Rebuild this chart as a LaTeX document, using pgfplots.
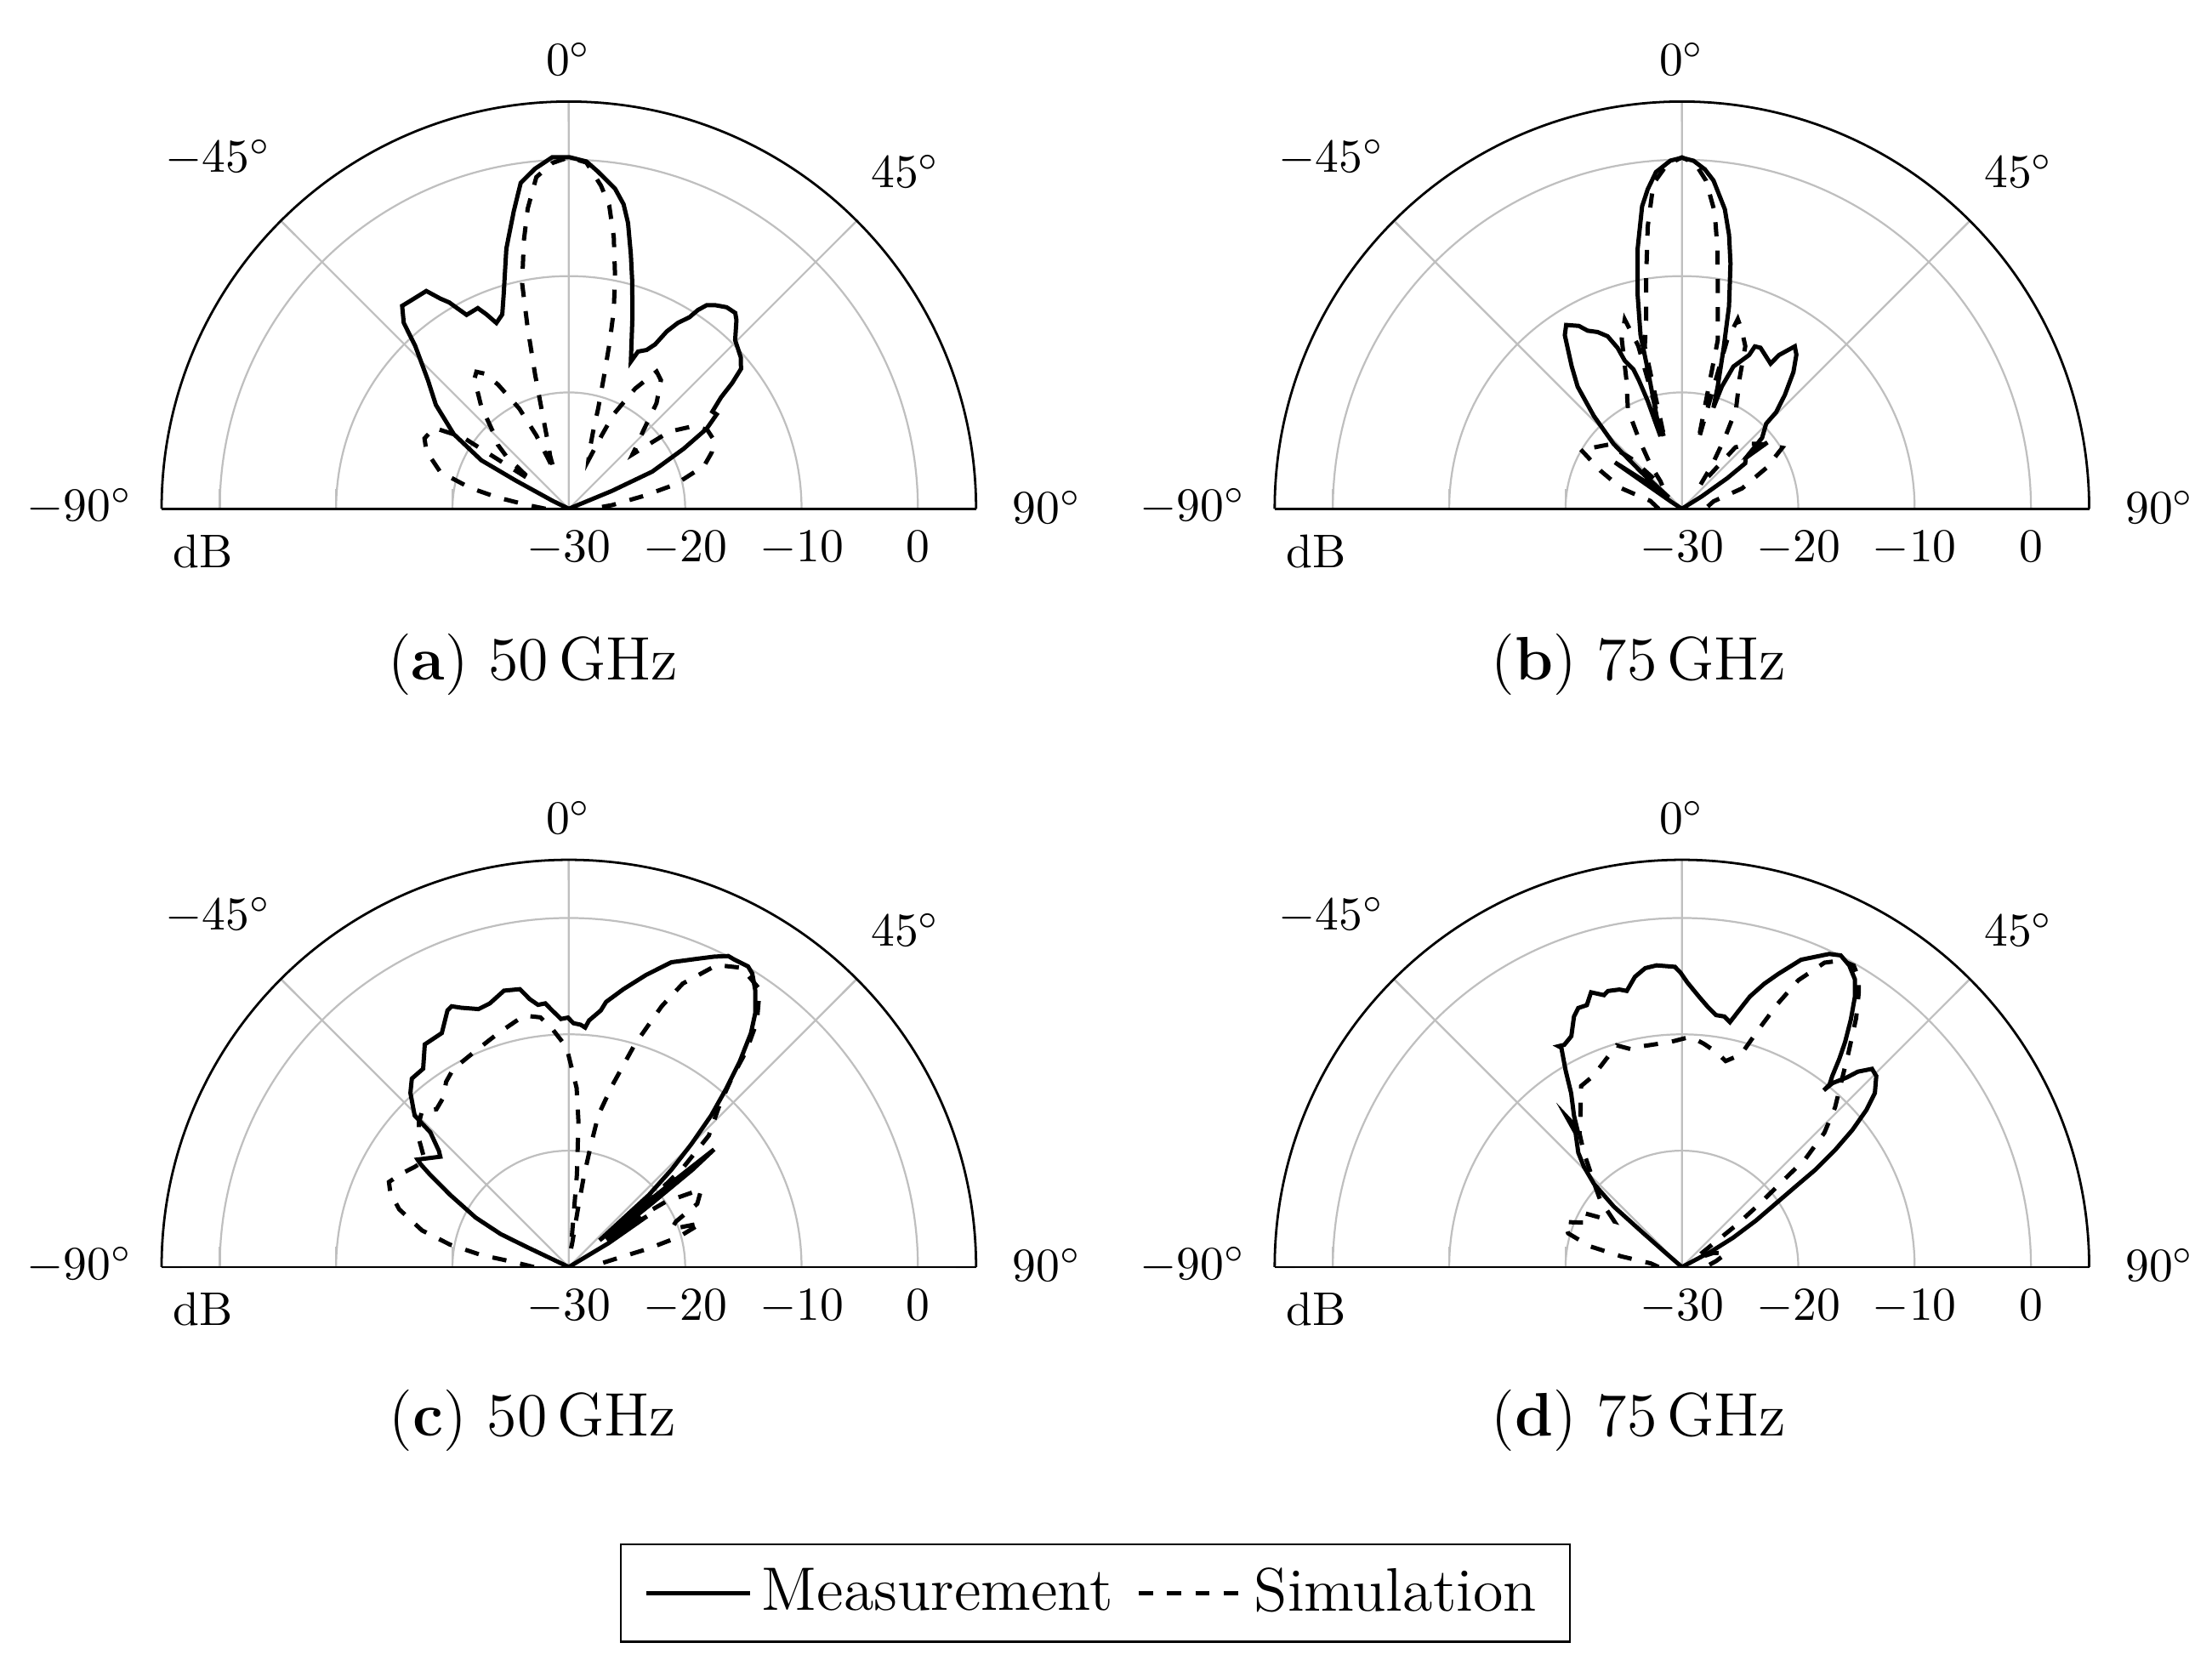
\documentclass[border=0pt]{standalone}
\usepackage{pgfplots}
\usepackage{pgfplotstable}
\usepgfplotslibrary{polar}
\pgfplotsset{compat=1.18}

% angle (deg, 0 = broadside) and level (dB)
\pgfplotstableread{
-90 -40
-67 -40
-64 -28.5
-62 -24.8
-61 -21.4
-57 -18.2
-52 -15.5
-47.6 -13.6
-43.3 -10.74
-41.6 -8.63
-39.4 -7.43
-37.6 -7.52
-33.2 -7.63
-31.4 -8.85
-30.1 -9.5
-29.0 -10.34
-27.8 -11.16
-26.1 -11.12
-24.4 -11.06
-22.95 -11.86
-21.3 -12.86
-18.9 -12.34
-16.9 -10.74
-13.5 -7.0
-10.5 -4.01
-8.4 -1.69
-5.66 -0.62
-2.7 0.25
0.1 0.22
2.9 -0.11
4.9 -0.9
8.2 -2.19
10.2 -3.41
11.7 -4.91
13.7 -7.49
15.7 -9.84
18.6 -12.89
22.85 -16.27
23.75 -15.24
26.1 -14.8
27.7 -14.04
28.9 -12.6
30.4 -11.47
32.2 -10.55
33.0 -9.63
34.1 -8.87
35.7 -8.45
38.06 -8.0
40.35 -7.91
41.6 -8.3
44.6 -9.64
48.6 -10.3
50.9 -10.93
52.4 -12.27
53.8 -13.79
55.9 -15.1
57.45 -14.93
59.85 -16.3
62.4 -18.86
66.0 -22.15
67.5 -26
69 -40
90 -40
}\measA

\pgfplotstableread{
-90 -28
-85 -26.5
-81 -23.8
-78 -21.3
-74 -18.5
-68 -16.8
-64 -16.2
-59 -16.5
-56 -19
-53 -26
-50 -23
-48 -21.8
-45 -20.9
-40.5 -18.4
-36 -16.2
-34 -15.8
-32 -16.3
-29.7 -17.7
-26.3 -20.4
-23.9 -23.1
-21 -26.5
-19.5 -25.2
-17.6 -24.1
-15.5 -21.5
-14.1 -18.1
-12.8 -14
-11.7 -10.2
-9.5 -6.6
-7.8 -3.96
-5.6 -1.36
-2.7 -0.24
0 0.2
2.9 -0.2
5.7 -2.1
7.6 -3.72
9.4 -6.34
11.3 -9.7
12.8 -12.6
13.8 -15.3
14.9 -18.3
16.3 -21.0
17.5 -23.1
19.8 -24.8
22 -25.5
24.2 -23
25.4 -21.0
28.9 -18.2
32.6 -16.0
35.6 -16.4
39.7 -18.2
43.6 -20.7
47.9 -22.3
49.5 -22.8
52.5 -19.1
56.7 -17.0
60.5 -16.3
64.7 -16.2
68.5 -16.8
72.4 -17.8
77.1 -20.6
80.3 -23.5
85.1 -26.25
90 -28
}\simA

\pgfplotstableread{
-90 -40
-60 -40
-57 -29
-55.3 -23
-53.5 -26
-51.5 -28
-49 -28.5
-48 -25.3
-46.5 -21.9
-43.5 -19
-40.5 -16.2
-37.7 -14.5
-34.0 -12.0
-32.2 -11.33
-29.4 -11.96
-27.9 -12.68
-25.5 -13.17
-23.3 -13.86
-21.8 -15.1
-21.1 -16.36
-19.2 -17.3
-18.5 -18.4
-17.6 -20.26
-16.5 -23.5
-13.8 -17.65
-13.4 -14.64
-11.7 -11.23
-9.7 -7.37
-7.5 -3.78
-6.1 -2.37
-4.4 -0.97
-1.9 -0.06
0 0.17
1.9 -0.07
3.85 -0.75
5.5 -1.66
8.15 -3.99
9.77 -6.12
11.2 -8.51
13.1 -12.14
14.6 -15.84
16.3 -19.04
17.3 -20.9
18.1 -18.94
19.9 -17.0
23.6 -15.58
24.2 -14.7
26.0 -14.6
31.4 -15.38
32.3 -14.36
34.8 -13.0
36.6 -13.5
39.2 -14.84
42.1 -16.8
44.3 -18.4
44.7 -19.7
48.5 -20.8
50.5 -22.4
52.2 -20.7
51.5 -23
54.3 -23.3
56 -25.3
58 -28
60 -40
90 -40
}\measB

\pgfplotstableread{
-90 -28
-76 -27.2
-71.3 -24.5
-65 -22.3
-59.6 -19.9
-55 -20.8
-49 -21.6
-45 -24
-41 -27.5
-38 -27
-35.7 -25.4
-31.7 -23
-28.6 -20.3
-23.1 -17.8
-19.5 -14.5
-16.8 -13.0
-15 -15.5
-14 -24
-12.9 -15.7
-10.75 -13.5
-8.8 -9.9
-6.9 -5.55
-5.0 -1.93
-2.5 -0.4
0 0.2
2.2 -0.3
4.2 -1.72
6.3 -4.34
7.8 -7.48
9.4 -11.1
12.0 -15.2
13.5 -24
15 -15
16.4 -13.0
18.5 -13.8
21.3 -15.0
23.8 -17.7
28.6 -20.3
31.2 -22.9
34.5 -25.4
38 -27.5
41 -23
47 -21.8
52 -21
58.7 -19.9
64.1 -21.9
71.3 -24.55
76.7 -27.2
90 -28
}\simB

\pgfplotstableread{
-90 -40
-66 -40
-64.5 -26
-64.2 -23.5
-62.05 -20.94
-58.7 -18.07
-56.4 -15.71
-55.2 -14.46
-54.6 -14.05
-49.35 -15.44
-48.2 -15.02
-45.8 -13.4
-45.5 -11.42
-42.3 -9.77
-39.8 -8.92
-36.3 -8.85
-32.9 -7.21
-28.5 -7.12
-25.3 -5.6
-24.2 -5.43
-22.5 -5.88
-19.3 -6.51
-16.7 -6.35
-13.2 -5.6
-10.0 -5.75
-8.3 -6.73
-6.7 -7.31
-5.1 -7.25
-3.7 -7.9
-1.8 -8.67
-0.2 -8.56
1.1 -9.04
2.8 -9.15
3.9 -9.37
4.7 -8.73
7.1 -7.78
8.0 -6.99
11.1 -5.67
14.8 -4.04
18.6 -2.36
22.4 -1.36
25.1 -0.54
27.15 0.04
28.2 0.01
30.8 0.08
32.0 -0.25
34.0 -1.34
36.3 -2.94
37.9 -4.52
39.75 -7.03
41.5 -9.68
43.2 -12.12
44.9 -15.06
46.5 -17.82
48.0 -20.74
48.3 -24
49 -26.5
50.3 -22
50.7 -18
51.0 -13.94
51.8 -16.5
52.5 -21
54 -26
57 -22
59 -26
61 -40
90 -40
}\measC

\pgfplotstableread{
-90 -27
-84.6 -25.1
-82.2 -22.4
-79.3 -19.6
-76 -17.0
-71.2 -14.6
-67.5 -13.4
-64.7 -12.9
-61 -13.5
-57 -14.2
-53.5 -14.6
-49.6 -13.1
-46 -12.1
-43.3 -11.6
-40 -12.3
-36.7 -11.9
-33.5 -10.9
-30.3 -10.3
-23.7 -9.8
-16.75 -9.0
-10.1 -8.05
-6.5 -8.4
-3.95 -9.5
-0.6 -11.1
2.5 -14.6
3.8 -17.5
5.0 -22
6.5 -28.5
8.1 -27.9
8.9 -25.0
9.4 -22.2
10.2 -19.5
11.0 -16.7
13.4 -14.0
16.5 -10.06
19.6 -6.21
21.9 -3.74
26.1 -1.1
30 -0.3
34.5 -1.04
37.5 -3.45
39.4 -5.96
40.8 -8.6
43.0 -11.03
46.8 -13.5
49 -17
51 -22
53 -24.5
56 -20
59.6 -16.8
63.8 -17.7
67 -20
69.7 -20.6
71.7 -18
74.7 -20.2
77 -23
80 -25.9
85 -27.5
90 -28
}\simC

\pgfplotstableread{
-90 -40
-50 -40
-49 -28
-48.7 -25.45
-48.4 -22.17
-46.6 -19.6
-44.35 -17.96
-42.2 -16.74
-38.4 -15.28
-37.5 -13.7
-37.0 -15.0
-35.5 -14.03
-32.5 -12.28
-30.6 -10.36
-28.8 -8.49
-29.2 -8.26
-27.9 -8.39
-25.6 -8.0
-23.3 -6.55
-21.8 -6.02
-19.95 -6.05
-18.3 -5.13
-16.0 -5.69
-15.0 -5.44
-12.7 -5.55
-11.3 -5.8
-9.2 -4.73
-7.0 -4.12
-4.8 -3.98
-1.35 -4.19
-0.3 -4.68
1.1 -5.54
3.6 -6.71
5.6 -7.5
7.7 -8.15
9.6 -8.16
11.1 -8.55
12.5 -7.44
14.1 -6.03
16.2 -4.65
18.2 -3.48
21.2 -1.67
25.2 -0.26
27.0 0.06
29.0 -0.35
31.05 -1.16
32.6 -2.4
34.3 -4.23
35.95 -6.11
37.1 -7.58
38.2 -9.1
38.96 -9.83
38.75 -10.52
39.3 -9.58
41.0 -8.42
42.0 -7.41
43.8 -6.4
45.5 -6.58
47.96 -7.67
49.6 -9.19
51.2 -11.2
52.6 -13.4
53.9 -15.8
54.7 -18.05
55.95 -20.3
57.9 -22.5
60.2 -24.94
62.1 -27.2
64 -40
90 -40
}\measD

\pgfplotstableread{
-90 -28
-83.3 -27.3
-80.0 -24.7
-77.3 -21.9
-73.5 -19.8
-69 -19.2
-65 -21
-61 -20.5
-56 -23
-50.6 -20.9
-47 -19.8
-44.0 -18.7
-40.5 -17
-37.4 -15.5
-33.6 -14.24
-29.1 -12.19
-25 -11.9
-21.6 -11.3
-16.4 -10.14
-13 -10.8
-10.2 -10.72
-2.9 -10.63
2.1 -10.2
5.5 -10.7
9.0 -11.28
12 -11.9
15.5 -11.06
17.9 -8.53
20.0 -5.91
22.1 -3.39
25.1 -1.11
27.5 -0.3
29.65 -0.17
31.5 -0.9
32.9 -2.04
35 -3.9
38 -6.8
41 -9.2
43.8 -10.98
46.7 -13.18
48.8 -15.9
49.5 -18.6
50.9 -21.45
52.4 -24.1
55 -28
60 -28.5
66 -27
72.8 -26.0
80 -27
90 -28
}\simD

\pgfplotsset{
  pattern/.style={
    scale only axis, width=172.4pt, height=172.4pt,
    xmin=0, xmax=180, ymin=0, ymax=35,
    xtick={0,45,90,135,180}, xticklabels={{},{},{},{},{}},
    ytick={0,10,20,30}, yticklabels={{},{},{},{}},
    grid=major, grid style={gray!50, thin},
    tick style={gray!50, thin}, tick align=outside,
    axis line style={black, line width=0.5pt},
    anchor=south,
  },
  meas/.style={black, line width=0.9pt, no markers},
  sim/.style={black, line width=0.9pt, dashed, no markers},
  /pgfplots/table/dbt/.style={x expr={90-\thisrowno{0}}, y expr={max(\thisrowno{1}+30,0)}},
}

\begin{document}
\begin{tikzpicture}
\path (0,0) rectangle (468.2pt,354.8pt);

\begin{polaraxis}[pattern, at={(120.4pt,247.1pt)}]
  \addplot[meas] table[dbt] {\measA};
  \addplot[sim] table[dbt] {\simA};
\end{polaraxis}
\begin{polaraxis}[pattern, at={(356.0pt,247.1pt)}]
  \addplot[meas] table[dbt] {\measB};
  \addplot[sim] table[dbt] {\simB};
\end{polaraxis}
\begin{polaraxis}[pattern, at={(120.4pt,86.6pt)}]
  \addplot[meas] table[dbt] {\measC};
  \addplot[sim] table[dbt] {\simC};
\end{polaraxis}
\begin{polaraxis}[pattern, at={(356.0pt,86.6pt)}]
  \addplot[meas] table[dbt] {\measD};
  \addplot[sim] table[dbt] {\simD};
\end{polaraxis}

% angle and level labels round each pattern
\foreach \cx/\cy in {120.4/247.1, 356.0/247.1, 120.4/86.6, 356.0/86.6} {
  \node[inner sep=0pt] at (\cx pt, \cy pt+95.2pt) {$0^\circ$};
  \node[inner sep=0pt] at (\cx pt-74.2pt, \cy pt+74.3pt) {$-45^\circ$};
  \node[inner sep=0pt] at (\cx pt+71.3pt, \cy pt+71.4pt) {$45^\circ$};
  \node[inner sep=0pt] at (\cx pt-103.5pt, \cy pt+0.4pt) {$-90^\circ$};
  \node[inner sep=0pt] at (\cx pt+101.2pt, \cy pt+0.4pt) {$90^\circ$};
  \node[anchor=north, inner sep=0pt] at (\cx pt, \cy pt-4.6pt) {$-30$};
  \node[anchor=north, inner sep=0pt] at (\cx pt+24.63pt, \cy pt-4.6pt) {$-20$};
  \node[anchor=north, inner sep=0pt] at (\cx pt+49.26pt, \cy pt-4.6pt) {$-10$};
  \node[anchor=north, inner sep=0pt] at (\cx pt+73.89pt, \cy pt-4.6pt) {$0$};
  \node[anchor=base west, inner sep=0pt] at (\cx pt-84pt, \cy pt-12.4pt) {dB};
}

\node[anchor=base, font=\fontsize{13}{16}\selectfont] at (112.8pt,210.8pt) {(\textbf{a}) 50\,GHz};
\node[anchor=base, font=\fontsize{13}{16}\selectfont] at (346.9pt,210.8pt) {(\textbf{b}) 75\,GHz};
\node[anchor=base, font=\fontsize{13}{16}\selectfont] at (112.8pt,50.9pt) {(\textbf{c}) 50\,GHz};
\node[anchor=base, font=\fontsize{13}{16}\selectfont] at (346.9pt,50.9pt) {(\textbf{d}) 75\,GHz};

\begin{axis}[hide axis, scale only axis, width=10pt, height=10pt,
  xmin=0, xmax=1, ymin=0, ymax=1,
  at={(231.8pt,17.6pt)}, anchor=center,
  legend columns=2,
  legend style={at={(0.5,0.5)}, anchor=center, draw=black,
    font=\fontsize{13}{16}\selectfont,
    inner xsep=5pt, inner ysep=3pt,
    /tikz/every even column/.append style={column sep=3pt}},
  legend image code/.code={\draw[#1] (0pt,0pt) -- (22pt,0pt);}]
  \addlegendimage{meas}
  \addlegendentry{Measurement}
  \addlegendimage{sim}
  \addlegendentry{Simulation}
\end{axis}
\end{tikzpicture}
\end{document}
